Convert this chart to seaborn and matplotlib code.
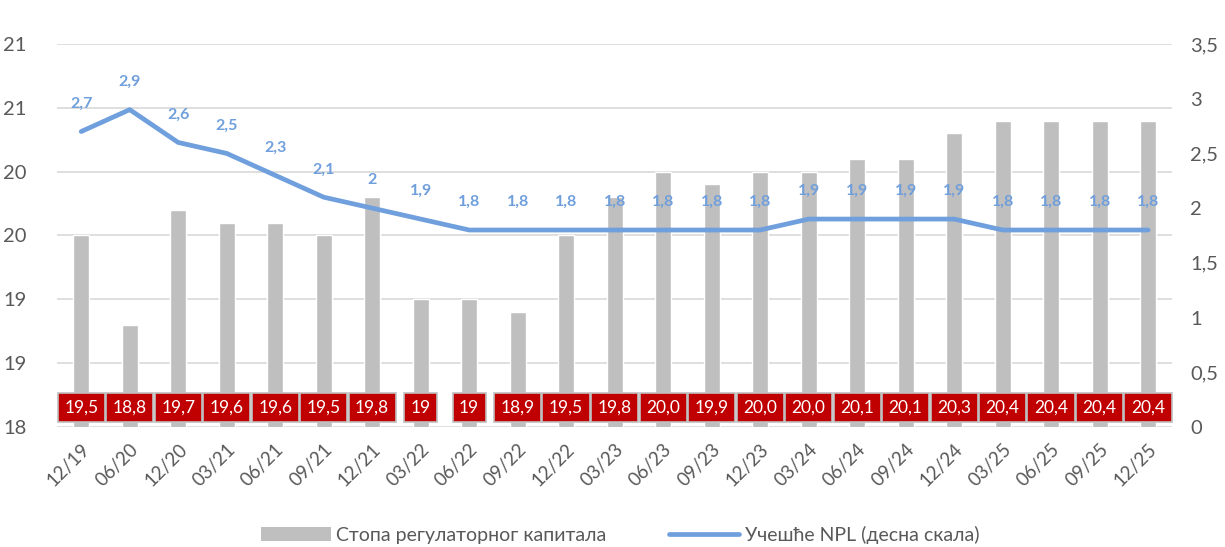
import math
import numpy as np
import seaborn as sns
import matplotlib.pyplot as plt
from matplotlib.ticker import FuncFormatter, MultipleLocator
from matplotlib.patches import Patch
from matplotlib.lines import Line2D

periods = ['12/19', '06/20', '12/20', '03/21', '06/21', '09/21', '12/21', '03/22',
           '06/22', '09/22', '12/22', '03/23', '06/23', '09/23', '12/23', '03/24',
           '06/24', '09/24', '12/24', '03/25', '06/25', '09/25', '12/25']
capital = [19.5, 18.8, 19.7, 19.6, 19.6, 19.5, 19.8, 19.0, 19.0, 18.9, 19.5, 19.8,
           20.0, 19.9, 20.0, 20.0, 20.1, 20.1, 20.3, 20.4, 20.4, 20.4, 20.4]
capital_labels = ['19,5', '18,8', '19,7', '19,6', '19,6', '19,5', '19,8', '19', '19',
                  '18,9', '19,5', '19,8', '20,0', '19,9', '20,0', '20,0', '20,1', '20,1',
                  '20,3', '20,4', '20,4', '20,4', '20,4']
npl = [2.7, 2.9, 2.6, 2.5, 2.3, 2.1, 2.0, 1.9, 1.8, 1.8, 1.8, 1.8, 1.8, 1.8, 1.8,
       1.9, 1.9, 1.9, 1.9, 1.8, 1.8, 1.8, 1.8]
legend_labels = ['Стопа регулаторног капитала', 'Учешће NPL (десна скала)']

sns.set_style('white')
plt.rcParams['font.family'] = ['Lato', 'DejaVu Sans']

bar_color = '#BFBFBF'
line_color = '#6F9FDC'
text_color = '#595959'
red = '#C00000'

fig = plt.figure(figsize=(12.25, 5.47), dpi=100)
ax = fig.add_axes([0.0465, 0.2194, 0.9105, 0.7002])
x = np.arange(len(periods))

sns.barplot(x=x, y=capital, color=bar_color, width=0.33, saturation=1, ax=ax, zorder=2)
ax.set_ylim(18, 21)
ax.set_xlim(-0.5, len(periods) - 0.5)
ax.yaxis.set_major_locator(MultipleLocator(0.5))
ax.yaxis.set_major_formatter(FuncFormatter(lambda v, p: str(int(math.floor(v + 0.5)))))
ax.grid(axis='y', color='#D9D9D9', linewidth=1.2, zorder=0)
ax.set_axisbelow(True)
ax.set_xticks(x)
ax.set_xticklabels(periods, rotation=45, ha='right', rotation_mode='anchor')
ax.tick_params(axis='x', length=0, labelsize=13.5, colors=text_color, pad=10)
ax.tick_params(axis='y', length=0, labelsize=14.5, colors=text_color, pad=22)
for s in ax.spines.values():
    s.set_visible(False)
ax.set_xlabel('')
ax.set_ylabel('')

# red value boxes
for i, lab in enumerate(capital_labels):
    ax.text(i, 18.15, lab, ha='center', va='center', color='white', fontsize=12.5,
            zorder=5,
            bbox=dict(boxstyle='square,pad=0.38', facecolor=red,
                      edgecolor='#BFBFBF', linewidth=1.2))

ax2 = ax.twinx()
sns.lineplot(x=x, y=npl, color=line_color, linewidth=3.4, ax=ax2)
ax2.set_ylim(0, 3.5)
ax2.yaxis.set_major_locator(MultipleLocator(0.5))
ax2.yaxis.set_major_formatter(FuncFormatter(lambda v, p: f'{v:g}'.replace('.', ',')))
ax2.tick_params(axis='y', length=0, labelsize=14.5, colors=text_color, pad=13)
for s in ax2.spines.values():
    s.set_visible(False)
ax2.set_ylabel('')
for i, v in enumerate(npl):
    ax2.annotate(f'{v:g}'.replace('.', ','), (i, v), xytext=(0, 20), textcoords='offset points',
                 ha='center', va='center', color=line_color, fontsize=11.5, fontweight='bold')

handles = [Patch(facecolor=bar_color, edgecolor='none'),
           Line2D([0], [0], color=line_color, linewidth=3.4)]
fig.legend(handles, legend_labels, loc='center', bbox_to_anchor=(0.506, 0.022), ncol=2,
           frameon=False, fontsize=14, labelcolor=text_color, handlelength=3.6,
           columnspacing=3.2, handletextpad=0.3)

fig.savefig('out.png', dpi=100)
